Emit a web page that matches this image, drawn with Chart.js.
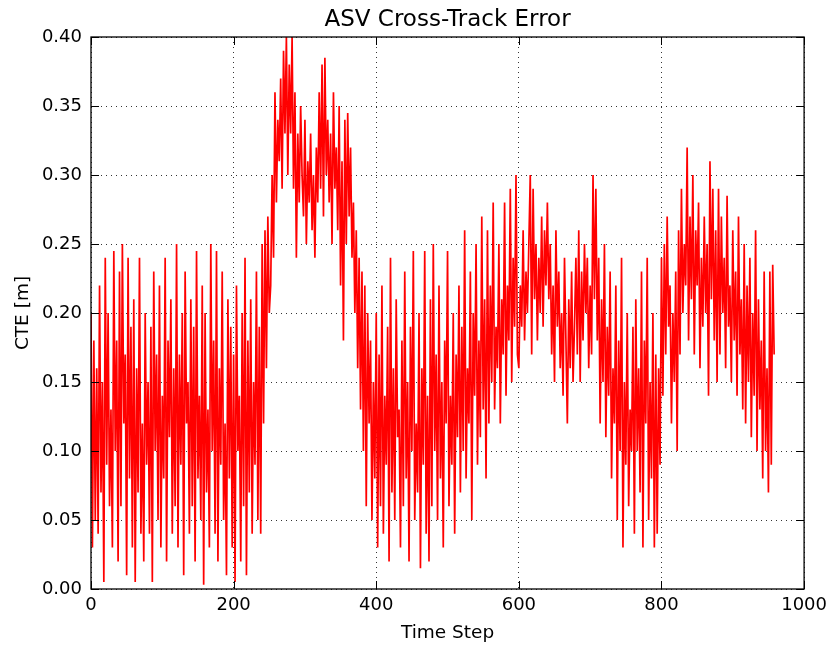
<!DOCTYPE html>
<html>
<head>
<meta charset="utf-8">
<script src="https://cdn.jsdelivr.net/npm/chart.js@4"></script>
<style>
  body { margin: 0; background: #fff; }
  #wrap { width: 833px; height: 652px; }
</style>
</head>
<body>
<div id="wrap"><canvas id="cte-chart" width="833" height="652"></canvas></div>
<script>
// valores (um valor a cada 2 passos, de 0 a 958)
const passo = 2;
const cte0 = [0.20,0.03,0.18,0.05,0.16,0.04,0.22,0.07,0.15,0.005,0.24,0.09,0.20,0.06,0.13,0.03,0.245,0.10,0.18,0.02,
  0.23,0.06,0.25,0.12,0.17,0.01,0.24,0.08,0.19,0.03,0.21,0.005,0.16,0.07,0.24,0.04,0.12,0.02,0.20,0.09,
  0.15,0.04,0.19,0.005,0.23,0.10,0.17,0.05,0.22,0.03,0.14,0.08,0.24,0.02,0.18,0.11,0.21,0.04,0.16,0.06,
  0.25,0.03,0.17,0.09,0.20,0.01,0.23,0.12,0.15,0.04,0.21,0.06,0.19,0.02,0.245,0.08,0.14,0.05,0.22,0.003,
  0.20,0.07,0.13,0.03,0.25,0.10,0.18,0.04,0.245,0.02,0.16,0.09,0.23,0.05,0.12,0.01,0.21,0.08,0.19,0.03,
  0.17,0.005,0.22,0.10,0.14,0.02,0.20,0.06,0.24,0.01,0.18,0.07,0.21,0.04,0.15,0.09,0.23,0.05,0.19,0.04];
const cte1 = [0.25,0.12,0.26,0.16,0.27,0.20,0.22,0.30,0.24,0.36,0.28,0.34,0.31,0.37,0.29,0.39,0.33,0.40,0.30,0.38,
  0.33,0.40,0.29,0.36,0.24,0.33,0.28,0.35,0.30,0.27,0.34,0.25,0.31,0.28,0.33,0.26,0.30,0.24,0.32,0.28,
  0.36,0.29,0.38,0.27,0.385,0.30,0.34,0.28,0.33,0.25,0.36,0.29,0.32,0.26,0.35,0.22,0.31,0.18,0.34,0.25,
  0.345,0.27,0.32,0.24,0.28,0.20,0.26,0.16,0.24,0.13,0.23,0.10,0.22,0.06,0.20,0.12,0.18,0.05,0.15,0.08];
const cte2 = [0.20,0.03,0.17,0.06,0.22,0.04,0.14,0.09,0.19,0.02,0.24,0.07,0.16,0.05,0.21,0.11,0.13,0.03,0.18,0.06,
  0.23,0.08,0.15,0.02,0.19,0.10,0.245,0.05,0.12,0.07,0.20,0.015,0.16,0.09,0.245,0.04,0.14,0.02,0.21,0.06,
  0.25,0.10,0.17,0.05,0.22,0.08,0.15,0.03,0.18,0.12,0.245,0.06,0.14,0.09,0.20,0.04,0.17,0.11,0.22,0.07,
  0.19,0.10,0.26,0.08,0.16,0.12,0.23,0.05,0.20,0.14,0.25,0.09,0.18,0.11,0.27,0.13,0.21,0.08,0.26,0.12];
const cte3 = [0.22,0.15,0.28,0.13,0.19,0.16,0.25,0.12,0.21,0.17,0.28,0.14,0.22,0.18,0.29,0.15,0.24,0.19,0.30,0.17,
  0.16,0.22,0.19,0.26,0.18,0.23,0.20,0.25,0.30,0.17,0.29,0.21,0.25,0.18,0.24,0.20,0.27,0.19,0.26,0.22,
  0.28,0.21,0.25,0.17,0.22,0.15,0.26,0.19,0.23,0.16,0.20,0.14,0.24,0.18,0.12,0.21,0.16,0.23,0.15,0.19,
  0.24,0.17,0.26,0.15,0.23,0.18,0.25,0.20,0.24,0.16,0.22,0.17,0.30,0.21,0.29,0.18,0.24,0.12,0.21,0.15];
const cte4 = [0.25,0.11,0.19,0.14,0.23,0.08,0.16,0.12,0.22,0.05,0.18,0.10,0.24,0.03,0.15,0.09,0.20,0.06,0.13,0.10,
  0.19,0.04,0.21,0.10,0.16,0.07,0.23,0.03,0.18,0.12,0.24,0.05,0.15,0.08,0.20,0.03,0.17,0.04,0.16,0.09,
  0.24,0.14,0.25,0.17,0.27,0.19,0.22,0.12,0.20,0.15,0.23,0.10,0.26,0.17,0.29,0.20,0.25,0.22,0.32,0.18,
  0.27,0.21,0.30,0.17,0.26,0.22,0.28,0.16,0.24,0.19,0.27,0.20,0.25,0.14,0.31,0.21,0.29,0.18,0.26,0.15];
const cte5 = [0.29,0.17,0.27,0.20,0.24,0.16,0.285,0.19,0.22,0.15,0.26,0.18,0.23,0.14,0.27,0.17,0.21,0.13,0.25,0.12,
  0.22,0.15,0.24,0.11,0.20,0.14,0.26,0.10,0.21,0.13,0.18,0.08,0.23,0.10,0.16,0.07,0.23,0.09,0.235,0.17];

const xTicks = [0, 200, 400, 600, 800, 1000];
const yTicks = [0.00, 0.05, 0.10, 0.15, 0.20, 0.25, 0.30, 0.35, 0.40];
const titulo = "ASV Cross-Track Error";

const valores = [...cte0, ...cte1, ...cte2, ...cte3, ...cte4, ...cte5];
const pontos = valores.map((v, i) => ({ x: i * passo, y: v }));

const fonte = "'DejaVu Sans', sans-serif";

// moldura, marcas internas e título centrado na área do gráfico
const moldura = {
  id: "moldura",
  afterDraw(chart) {
    const { ctx, chartArea: a, scales } = chart;
    ctx.save();
    ctx.strokeStyle = "#000";
    ctx.lineWidth = 1;
    ctx.beginPath();
    xTicks.forEach(t => {
      const px = Math.round(scales.x.getPixelForValue(t)) + 0.5;
      ctx.moveTo(px, a.bottom); ctx.lineTo(px, a.bottom - 8);
      ctx.moveTo(px, a.top); ctx.lineTo(px, a.top + 8);
    });
    yTicks.forEach(t => {
      const py = Math.round(scales.y.getPixelForValue(t)) + 0.5;
      ctx.moveTo(a.left, py); ctx.lineTo(a.left + 8, py);
      ctx.moveTo(a.right, py); ctx.lineTo(a.right - 8, py);
    });
    ctx.stroke();
    ctx.lineWidth = 1.3;
    ctx.strokeRect(a.left, a.top, a.right - a.left, a.bottom - a.top);

    ctx.fillStyle = "#000";
    ctx.font = "23px " + fonte;
    ctx.textAlign = "center";
    ctx.textBaseline = "middle";
    ctx.fillText(titulo, (a.left + a.right) / 2, 20);
    ctx.restore();
  }
};

new Chart(document.getElementById("cte-chart"), {
  type: "line",
  data: {
    datasets: [{
      data: pontos,
      borderColor: "#ff0000",
      borderWidth: 1.7,
      pointRadius: 0,
      tension: 0,
      fill: false
    }]
  },
  options: {
    responsive: false,
    animation: false,
    layout: { padding: { top: 37, right: 28 } },
    plugins: {
      legend: { display: false },
      tooltip: { enabled: false },
      title: { display: false }
    },
    scales: {
      x: {
        type: "linear",
        min: 0, max: 1000,
        afterBuildTicks: s => { s.ticks = xTicks.map(v => ({ value: v })); },
        afterFit: s => { s.height = 63; },
        ticks: { color: "#000", font: { family: fonte, size: 18 }, padding: 6, maxRotation: 0, callback: v => String(v) },
        grid: { color: "#000", lineWidth: 0.8, drawTicks: false },
        border: { display: false, dash: [1, 4] },
        title: { display: true, text: "Time Step", color: "#000", font: { family: fonte, size: 18.5 }, padding: { top: 0, bottom: 8 } }
      },
      y: {
        min: 0, max: 0.4,
        afterBuildTicks: s => { s.ticks = yTicks.map(v => ({ value: v })); },
        afterFit: s => { s.width = 91; },
        ticks: { color: "#000", font: { family: fonte, size: 18 }, padding: 9, callback: v => v.toFixed(2) },
        grid: { color: "#000", lineWidth: 0.8, drawTicks: false },
        border: { display: false, dash: [1, 4] },
        title: { display: true, text: "CTE [m]", color: "#000", font: { family: fonte, size: 18.5 }, padding: { top: 12, bottom: 0 } }
      }
    }
  },
  plugins: [moldura]
});
</script>
</body>
</html>
